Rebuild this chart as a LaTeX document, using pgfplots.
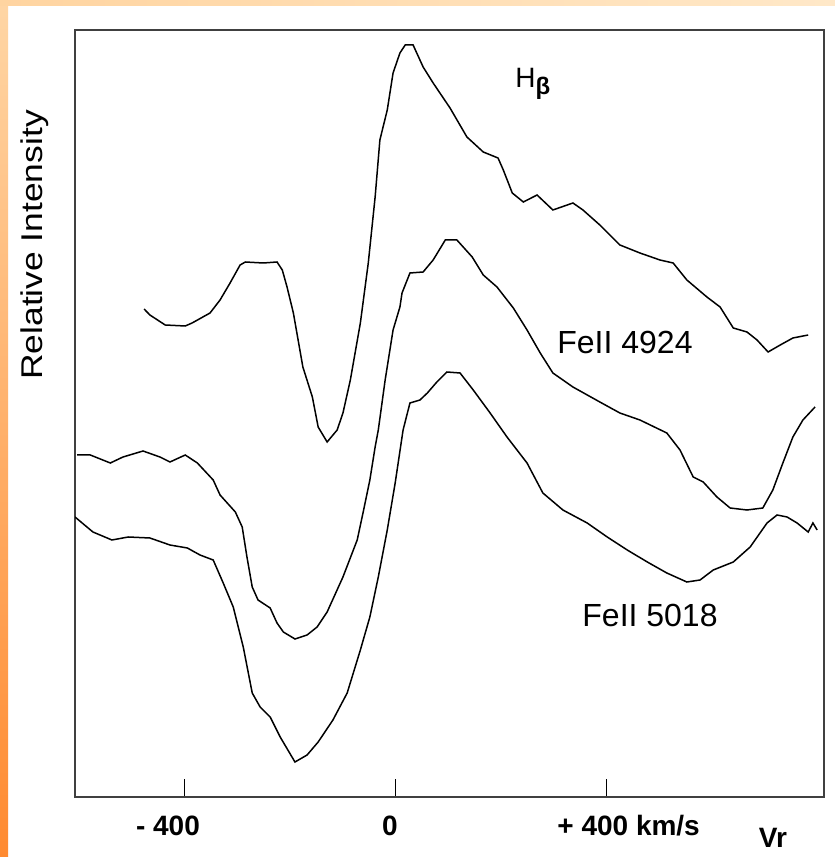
\documentclass[border=0pt]{standalone}
\usepackage{pgfplots}
\pgfplotsset{compat=1.18}
\usepackage{fontspec}
\setmainfont{Liberation Sans}

% Line profiles: radial velocity (km/s) vs. relative intensity (offset, arbitrary units)
\pgfplotstableread{
v I
-477 488
-466 482
-437 472
-399 471
-386 474
-352 484
-333 497
-314 514
-295 532
-285 535
-251 534
-225 535
-215 527
-206 510
-194 484
-176 430
-158 400
-147 370
-130 355
-111 367
-100 384
-86 417
-67 474
-52 534
-39 600
-30 657
-16 687
-5 724
8 744
18 752
33 752
52 730
71 714
103 689
135 660
166 645
194 639
204 627
221 604
242 595
268 602
298 587
336 594
355 587
387 572
425 552
463 544
501 537
526 534
552 517
590 500
615 490
640 469
666 465
685 457
706 445
729 452
753 459
782 462
}\hbeta

\pgfplotstableread{
v I
-604 342
-579 342
-541 334
-517 340
-479 346
-447 340
-428 335
-399 342
-376 334
-346 317
-333 302
-304 285
-291 270
-282 240
-272 210
-261 197
-238 189
-225 174
-213 165
-191 158
-168 162
-149 170
-130 185
-100 220
-73 257
-62 284
-49 317
-39 350
-33 367
-20 417
-5 467
8 490
12 504
27 524
52 525
71 537
94 557
116 557
145 540
166 522
192 510
223 489
249 467
274 444
298 424
336 410
387 395
425 384
463 377
514 364
539 347
564 320
583 315
609 300
634 289
666 287
696 289
715 307
734 334
753 360
772 377
795 390
}\feA

\pgfplotstableread{
v I
-608 280
-574 265
-538 257
-507 260
-466 259
-428 252
-395 249
-371 242
-346 237
-327 214
-308 190
-289 150
-272 104
-257 90
-238 80
-219 60
-191 35
-168 42
-147 55
-119 77
-92 104
-67 147
-49 180
-33 220
-16 267
-1 314
14 367
27 394
46 397
60 404
78 415
97 425
122 424
147 407
179 384
211 360
249 334
279 304
317 287
363 274
401 260
439 247
477 235
514 224
552 215
577 217
602 227
640 235
672 250
704 274
723 282
742 280
761 274
782 265
791 274
799 267
}\feB

\begin{document}
\begin{tikzpicture}
% page frame with the orange edge
\begin{scope}[x=0.5pt,y=0.5pt]
\path[use as bounding box] (0,0) rectangle (835,857);
\fill[white] (0,0) rectangle (835,857);
\shade[top color={rgb,255:red,255;green,214;blue,165},
       bottom color={rgb,255:red,255;green,138;blue,48}] (0,0) rectangle (8,857);
\shade[left color={rgb,255:red,255;green,212;blue,160},
       right color={rgb,255:red,255;green,232;blue,200}] (0,851) rectangle (835,857);
\end{scope}

\begin{axis}[
  at={(37.5pt,30pt)}, anchor=south west,
  scale only axis, width=374.5pt, height=383.5pt,
  xmin=-608, xmax=812, ymin=0, ymax=767,
  axis line style={line width=1pt, black!75},
  xtick={-400,0,400}, xticklabels={,,},
  ytick=\empty,
  xtick pos=bottom, tick align=inside,
  major tick length=9pt,
  tick style={black, line width=0.6pt},
]
\addplot[black, line width=0.75pt] table[x=v,y=I] {\hbeta};
\addplot[black, line width=0.75pt] table[x=v,y=I] {\feA};
\addplot[black, line width=0.75pt] table[x=v,y=I] {\feB};
\end{axis}

% labels
\begin{scope}[x=0.5pt,y=0.5pt]
\node[font=\fontsize{14}{14}\selectfont\bfseries] at (168,31) {- 400};
\node[font=\fontsize{14}{14}\selectfont\bfseries] at (390,31) {0};
\node[font=\fontsize{14}{14}\selectfont\bfseries, anchor=west, inner sep=0pt] at (557,31) {+ 400 km/s};
\node[font=\fontsize{14}{14}\selectfont\bfseries] at (773,19) {Vr};
\node[rotate=90, font=\fontsize{15}{15}\selectfont] at (35,612) {\scalebox{1.18}[1]{Relative Intensity}};
\node[anchor=base west, inner sep=0pt, font=\fontsize{14}{14}\selectfont] at (515,769)
  {H\raisebox{-3.5pt}{\fontsize{12}{12}\selectfont\bfseries β}};
\node[anchor=base west, inner sep=0pt, font=\fontsize{16}{16}\selectfont] at (557,503) {FeII 4924};
\node[anchor=base west, inner sep=0pt, font=\fontsize{16}{16}\selectfont] at (582,230) {FeII 5018};
\end{scope}
\end{tikzpicture}
\end{document}
